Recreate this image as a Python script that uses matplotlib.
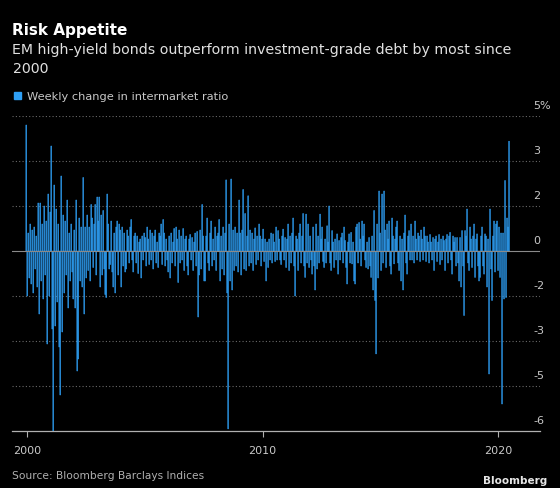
import matplotlib
matplotlib.use("Agg")
import matplotlib.pyplot as plt
import matplotlib.transforms as mtransforms
import pandas as pd

# weekly change in EM HY / IG intermarket ratio (%)
weekly_change = [
    4.2, -1.5, 0.6, -0.9, 0.9, -1.1, 0.7, -1.4, 0.8, -0.6, 0.5, -1.2, 1.6, -2.1, 1.6, -1.0, 0.9, -1.6, 1.5, -0.8,
    1.0, -3.1, 1.9, -1.5, 1.3, 3.5, -2.6, -6.1, 2.2, -2.5, 1.4, -1.7, 0.9, -3.2, -4.8, 2.5, -2.7, 1.2, -1.4, 1.0,
    -0.8, 1.7, -1.9, 0.6, -1.0, 0.9, -0.7, -1.6, 0.7, -1.9, 1.7, -4.0, -3.6, 1.1, -1.0, 0.8, -1.2, 2.45, -2.1, 0.8,
    -0.9, 1.2, -0.65, 0.8, -1.0, 1.55, 1.1, -0.55, 0.9, 1.55, -0.8, 1.8, 1.0, 1.8, -1.2, 1.2, -0.8, 1.35, -0.6, -1.45,
    -1.55, 1.9, 0.9, -0.6, -0.45, 1.0, -0.7, -1.2, 0.6, -1.4, 0.8, 1.0, -0.8, 0.9, 0.7, -1.2, 0.8, -0.5, 0.6, -0.7,
    -0.6, 0.7, 0.5, -0.4, 0.8, 1.05, -0.3, -0.7, 0.5, 0.6, -0.4, 0.5, -0.75, 0.3, 0.4, -0.9, 0.5, -0.3, 0.6, 0.45,
    -0.5, 0.8, 0.4, -0.45, 0.7, -0.3, 0.6, -0.6, 0.5, 0.7, -0.4, 0.3, -0.55, 0.6, 0.5, 0.9, -0.45, 1.05, 0.6, -0.5,
    0.4, -0.3, -0.7, 0.5, -0.9, 0.6, -0.4, 0.3, 0.75, -0.5, 0.8, 0.4, -1.05, 0.7, -0.4, 0.5, -0.3, 0.75, -0.65, 0.4,
    0.5, -0.5, -0.8, 0.4, 0.55, -0.3, 0.45, -0.65, 0.3, 0.6, -0.5, 0.65, -2.2, -0.8, 0.7, -0.6, 1.55, 0.5, -1.0, -1.0,
    0.5, 1.1, -0.4, -0.65, 0.6, 1.0, -0.5, 0.4, -0.3, 0.8, -0.65, 0.5, 0.6, 1.05, -1.0, 0.5, -0.6, 0.8, -0.8, 0.6,
    2.37, -1.4, -5.93, 0.9, -1.0, 2.4, -1.3, 0.7, -0.65, 0.8, -0.5, 0.6, -0.7, 1.7, 0.6, -0.8, 0.7, 2.05, -0.6, 1.25,
    -0.65, 0.5, 1.84, -0.5, 0.7, -0.4, 0.6, -0.65, 0.4, 0.77, -0.45, 0.5, -0.3, 0.9, 0.5, -0.5, 0.4, 0.73, -0.35, 0.4,
    -1.0, 0.3, -0.55, 0.4, -0.3, 0.6, -0.4, 0.57, 0.3, -0.35, 0.8, -0.3, 0.68, 0.4, -0.3, -0.45, 0.5, 0.73, -0.3, 0.45,
    -0.55, 0.4, 0.9, -0.65, 0.5, -0.4, 0.6, 1.1, -0.5, -1.5, 0.5, 0.4, -0.65, 0.6, 0.9, -0.4, 0.5, 1.25, -0.5, -0.88,
    1.23, -0.4, 0.9, -0.55, 0.5, -0.3, -0.77, 0.8, -0.5, -1.3, 0.9, -0.6, 0.5, -0.4, 1.23, 0.4, 0.8, -0.35, -0.55, 0.4,
    -0.4, 0.84, 0.3, 1.5, -0.4, -0.65, 0.68, 0.3, -0.55, 0.4, -0.3, 0.57, -0.77, 0.35, -0.3, 0.45, 0.6, -0.4, 0.8, 0.35,
    -0.55, -1.1, 0.3, 0.57, -0.4, 0.62, -0.43, 0.3, -1.0, -1.1, 0.8, 0.9, -0.4, 0.95, 0.4, -0.5, 1.0, 0.5, 0.9, -0.3,
    -0.55, 0.3, -0.6, 0.45, -0.5, -0.88, 0.5, -1.3, 1.35, -1.65, -3.43, 0.9, -0.9, 2.0, 0.6, -0.65, 1.9, -0.4, 2.0, 0.7,
    -0.55, 0.9, 0.4, 1.0, -0.5, -0.77, 1.1, 0.5, -0.43, 0.4, 0.8, 1.0, -0.4, -0.65, 0.5, -1.0, 0.4, -1.3, 0.6, 1.2,
    -0.4, -0.77, 0.5, 0.68, -0.3, 0.9, -0.3, 0.5, -0.4, 1.0, 0.4, -0.3, 0.6, 0.5, -0.35, 0.7, 0.4, -0.3, 0.8, 0.5,
    -0.35, 0.5, 0.3, -0.4, 0.55, 0.3, -0.3, 0.45, -0.65, 0.4, 0.5, -0.35, 0.3, 0.55, -0.45, 0.4, -0.3, 0.5, 0.35, -0.65,
    0.4, 0.55, -0.4, 0.5, 0.62, -0.3, -0.77, 0.5, 0.3, 0.45, -0.5, 0.45, -0.4, -1.0, 0.45, -1.2, 0.68, -0.5, -2.15, 0.68,
    0.5, 1.4, -0.4, -0.65, 0.8, 0.4, -0.55, 0.5, 0.9, -0.88, 0.4, 0.57, -0.5, -1.0, -0.88, 0.5, 0.8, -0.5, -0.77, 0.57,
    0.5, -1.2, 0.4, -4.1, 1.4, -0.6, -1.65, 0.5, 1.0, -0.7, 0.9, 1.0, -0.65, 0.8, -0.88, 0.6, -5.1, 0.6, -1.6, 2.35,
    -1.55, 1.1, 0.8, 3.66,
]
dates = pd.date_range("1999-12-20", "2020-06-19", periods=len(weekly_change))

ytick_values = [-6, -4.5, -3, -1.5, 0, 1.5, 3, 4.5]
ytick_labels = ["-6", "-5", "-3", "-2", "0", "2", "3", "5%"]
xtick_years = [2000, 2010, 2020]

BLUE = "#2e9ff5"
W, H = 560, 489

fig = plt.figure(figsize=(W / 100, H / 100), dpi=100, facecolor="black")
ax = fig.add_axes([12 / W, 1 - 432 / H, 528 / W, 315 / H])
ax.set_facecolor("black")

step = dates[1] - dates[0]
# snap off: bars are about a pixel wide and would otherwise vanish;
# a thin edge in the same colour keeps them bright after antialiasing
ax.bar(dates, weekly_change, width=step * 0.8, color=BLUE, edgecolor=BLUE,
       linewidth=0.35, snap=False, zorder=3)

ax.set_ylim(-6, 4.5)
ax.set_xlim(pd.Timestamp("1999-05-13"), pd.Timestamp("2021-10-12"))

# gridlines, zero line, baseline
for v in ytick_values:
    if v == 0:
        ax.axhline(v, color="#8a8a8a", lw=0.8, zorder=4)
    elif v == -6:
        continue
    else:
        ax.axhline(v, color="#6a6a6a", lw=0.8, ls=(0, (1, 2)), zorder=1)

for s in ["top", "left", "right"]:
    ax.spines[s].set_visible(False)
ax.spines["bottom"].set_color("#b0b0b0")
ax.spines["bottom"].set_linewidth(0.9)

ax.set_yticks([])
ax.set_xticks([pd.Timestamp(f"{y}-01-01") for y in xtick_years])
ax.set_xticklabels([str(y) for y in xtick_years])
ax.tick_params(axis="x", colors="#b0b0b0", length=4, width=0.8, pad=6, labelsize=8)
for lbl in ax.get_xticklabels():
    lbl.set_color("#c8c8c8")

# right-hand labels sitting above each gridline
trans = mtransforms.blended_transform_factory(ax.transAxes, ax.transData)
for v, lab in zip(ytick_values, ytick_labels):
    ax.annotate(lab, xy=(0.9867, v), xycoords=trans, xytext=(0, 8),
                textcoords="offset points", ha="left", va="center",
                color="#c8c8c8", fontsize=8)

# header
fig.text(12.5 / W, 1 - 35 / H, "Risk Appetite", color="white", fontsize=11,
         fontweight="bold", va="baseline")
fig.text(12.5 / W, 1 - 54 / H, "EM high-yield bonds outperform investment-grade debt by most since",
         color="#e0e0e0", fontsize=10.2, va="baseline")
fig.text(12.5 / W, 1 - 73 / H, "2000", color="#e0e0e0", fontsize=10.2, va="baseline")

# legend
fig.patches.append(plt.Rectangle((14 / W, 1 - 100 / H), 7 / W, 7 / H, color=BLUE,
                                 transform=fig.transFigure, figure=fig))
fig.text(27 / W, 1 - 100 / H, "Weekly change in intermarket ratio", color="#c8c8c8",
         fontsize=8.2, va="baseline")

# footer
fig.text(12.5 / W, 1 - 476 / H, "Source: Bloomberg Barclays Indices", color="#b0b0b0",
         fontsize=7.7, va="center")
fig.text(547 / W, 1 - 481 / H, "Bloomberg", color="#e6e6e6", fontsize=7.5,
         fontweight="bold", ha="right", va="center")

fig.savefig("out.png", dpi=100, facecolor="black")
